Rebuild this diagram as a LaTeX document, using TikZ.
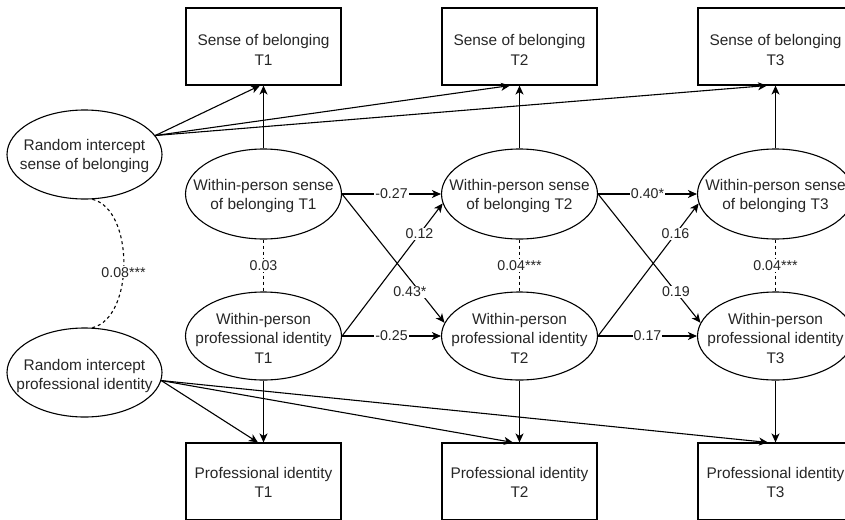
\documentclass[tikz,border=0pt]{standalone}
\usepackage{fontspec}
\setmainfont{Liberation Sans}
\usetikzlibrary{arrows.meta,shapes.geometric}
\begin{document}
\begin{tikzpicture}[x=1pt,y=-1pt,
  obs/.style={draw, line width=1.1pt, minimum width=155pt, minimum height=77pt, inner sep=0pt},
  lat/.style={draw, ellipse, line width=1.1pt, minimum width=156pt, minimum height=90pt, inner sep=0pt},
  txt/.style={align=center, inner sep=0pt, text=black!85, font=\fontsize{15.4}{19.5}\selectfont},
  arr/.style={line width=1.1pt, -{Stealth[length=9pt,width=8pt,inset=2.5pt]}},
  lbl/.style={fill=white, inner sep=1pt, text=black!85, font=\fontsize{14.2}{16}\selectfont},
  cov/.style={line width=1.1pt, dash pattern=on 3pt off 3pt},
]
\useasboundingbox (0,0) rectangle (845,519);
\clip (0,0) rectangle (845,519);

% observed: sense of belonging
\node[obs] (sb1) at (263.5,46.5) {};
\node[obs] (sb2) at (519.5,46.5) {};
\node[obs] (sb3) at (775.5,46.5) {};
\node[txt] (sb1t) at (263.5,50) {Sense of belonging\\T1};
\node[txt] (sb2t) at (519.5,50) {Sense of belonging\\T2};
\node[txt] (sb3t) at (775.5,50) {Sense of belonging\\T3};

% observed: professional identity
\node[obs] (pi1) at (263.5,481.5) {};
\node[obs] (pi2) at (519.5,481.5) {};
\node[obs] (pi3) at (775.5,481.5) {};
\node[txt] (pi1t) at (263.5,482.5) {Professional identity\\T1};
\node[txt] (pi2t) at (519.5,482.5) {Professional identity\\T2};
\node[txt] (pi3t) at (775.5,482.5) {Professional identity\\T3};

% random intercepts
\node[lat, minimum width=155pt, minimum height=89pt] (risob) at (84.5,154.5) {};
\node[txt] (risobt) at (84.5,156) {Random intercept\\sense of belonging};
\node[lat, minimum width=155pt, minimum height=89pt] (ripi) at (84.5,372.5) {};
\node[txt] (ripit) at (84.5,376) {Random intercept\\professional identity};

% within-person
\node[lat] (wsob1) at (263.5,194) {};
\node[lat] (wsob2) at (519.5,194) {};
\node[lat] (wsob3) at (775.5,194) {};
\node[txt] (wsob1t) at (263.5,196) {Within-person sense\\of belonging T1};
\node[txt] (wsob2t) at (519.5,196) {Within-person sense\\of belonging T2};
\node[txt] (wsob3t) at (775.5,196) {Within-person sense\\of belonging T3};

\node[lat, minimum height=88pt] (wpi1) at (263.5,336) {};
\node[lat, minimum height=88pt] (wpi2) at (519.5,336) {};
\node[lat, minimum height=88pt] (wpi3) at (775.5,336) {};
\node[txt] (wpi1t) at (263.5,338) {Within-person\\professional identity\\T1};
\node[txt] (wpi2t) at (519.5,338) {Within-person\\professional identity\\T2};
\node[txt] (wpi3t) at (775.5,338) {Within-person\\professional identity\\T3};

% random intercept loadings
\draw[arr] (risob.15) -- ([xshift=-3.5pt]sb1.south);
\draw[arr] (risob.15) -- ([xshift=-9.5pt]sb2.south);
\draw[arr] (risob.15) -- ([xshift=-8.5pt]sb3.south);
\draw[arr] (ripi.-6) -- ([xshift=-5.5pt]pi1.north);
\draw[arr] (ripi.-6) -- ([xshift=-6.5pt]pi2.north);
\draw[arr] (ripi.-6) -- ([xshift=-7.5pt]pi3.north);

% within-person loadings
\draw[arr] (wsob1.north) -- (sb1.south);
\draw[arr] (wsob2.north) -- (sb2.south);
\draw[arr] (wsob3.north) -- (sb3.south);
\draw[arr] (wpi1.south) -- (pi1.north);
\draw[arr] (wpi2.south) -- (pi2.north);
\draw[arr] (wpi3.south) -- (pi3.north);

% covariances
\draw[cov] (risob.-80) .. controls +(42,10) and +(42,-10) .. node[lbl,pos=0.55] (c0) {0.08***} (ripi.80);
\draw[cov] (wsob1.south) -- node[lbl] (c1) {0.03} (wpi1.north);
\draw[cov] (wsob2.south) -- node[lbl] (c2) {0.04***} (wpi2.north);
\draw[cov] (wsob3.south) -- node[lbl] (c3) {0.04***} (wpi3.north);

% cross-lagged paths T1 -> T2
\draw[arr] (wsob1.east) -- node[lbl,pos=0.76,xshift=-10pt] (l43) {0.43*} (wpi2.170);
\draw[arr] (wpi1.east) -- node[lbl,pos=0.77] (l12) {0.12} (wsob2.187);
\draw[arr] (wsob1.east) -- node[lbl] (l27) {-0.27} (wsob2.west);
\draw[arr] (wpi1.east) -- node[lbl] (l25) {-0.25} (wpi2.west);

% cross-lagged paths T2 -> T3
\draw[arr] (wsob2.east) -- node[lbl,pos=0.76] (l19) {0.19} (wpi3.170);
\draw[arr] (wpi2.east) -- node[lbl,pos=0.77] (l16) {0.16} (wsob3.187);
\draw[arr] (wsob2.east) -- node[lbl] (l40) {0.40*} (wsob3.west);
\draw[arr] (wpi2.east) -- node[lbl] (l17) {0.17} (wpi3.west);
\end{tikzpicture}
\end{document}
